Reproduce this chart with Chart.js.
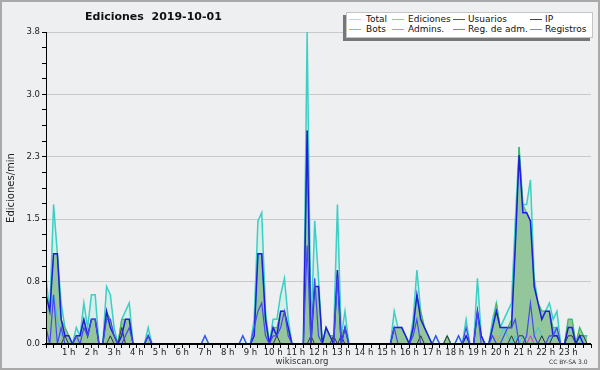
<!DOCTYPE html>
<html>
<head>
<meta charset="utf-8">
<script src="https://cdn.jsdelivr.net/npm/chart.js@4.4.1/dist/chart.umd.min.js"></script>
<style>
  body { margin: 0; background: #eeeff0; }
  #page { position: relative; width: 600px; height: 370px; background: #eeeff0; overflow: hidden;
          font-family: 'DejaVu Sans', sans-serif; color: #222; }
  #chart { position: absolute; left: 0; top: 0; }
  #frame { position: absolute; left: 0; top: 0; width: 600px; height: 370px; box-sizing: border-box;
           border: 2px solid #a9a9a9; pointer-events: none; }
  .txt { position: absolute; white-space: nowrap; }
  #title { left: 85px; top: 11px; font-size: 11px; line-height: 11px; font-weight: bold; color: #111; }
  #site { left: 262px; width: 80px; top: 357px; font-size: 8.5px; line-height: 9px; text-align: center; color: #333; }
  #lic { left: 549px; top: 359px; font-size: 6px; line-height: 6px; color: #333; }
  #legShadow { position: absolute; left: 343px; top: 15px; width: 247px; height: 26px; background: #777; }
  #legBox { position: absolute; left: 346px; top: 12px; width: 247px; height: 26px; box-sizing: border-box;
            background: #fff; border: 1px solid #c4c4c4; }
  .legLine { position: absolute; width: 12px; height: 1px; }
  .legTxt { position: absolute; font-size: 9px; line-height: 9px; color: #111; white-space: nowrap; }
</style>
</head>
<body>
<div id="page">
  <canvas id="chart" width="600" height="370"></canvas>
  <div class="txt" id="title">Ediciones&nbsp;&nbsp;2019-10-01</div>
  <div id="legShadow"></div>
  <div id="legBox"></div>
  <div id="legend"></div>
  <div class="txt" id="site">wikiscan.org</div>
  <div class="txt" id="lic">CC BY-SA 3.0</div>
  <div id="frame"></div>
</div>
<script>
// edits per minute, 10-minute bins for 2019-10-01 (144 bins, one row per hour)
const total = [
  0.8, 0.4, 1.7, 1.1, 0.5, 0.2,
  0.1, 0.0, 0.2, 0.1, 0.5, 0.2,
  0.6, 0.6, 0.0, 0.0, 0.7, 0.6,
  0.2, 0.0, 0.3, 0.4, 0.5, 0.0,
  0.0, 0.0, 0.0, 0.2, 0.0, 0.0,
  0.0, 0.0, 0.0, 0.0, 0.0, 0.0,
  0.0, 0.0, 0.0, 0.0, 0.0, 0.0,
  0.1, 0.0, 0.0, 0.0, 0.0, 0.0,
  0.0, 0.0, 0.0, 0.0, 0.1, 0.0,
  0.0, 0.3, 1.5, 1.6, 0.4, 0.0,
  0.3, 0.3, 0.6, 0.8, 0.3, 0.0,
  0.0, 0.0, 0.0, 3.8, 0.1, 1.5,
  0.8, 0.0, 0.2, 0.1, 0.1, 1.7,
  0.1, 0.4, 0.0, 0.0, 0.0, 0.0,
  0.0, 0.0, 0.0, 0.0, 0.0, 0.0,
  0.0, 0.0, 0.4, 0.2, 0.2, 0.1,
  0.0, 0.3, 0.9, 0.4, 0.2, 0.1,
  0.0, 0.1, 0.0, 0.0, 0.1, 0.0,
  0.0, 0.1, 0.0, 0.3, 0.0, 0.0,
  0.8, 0.1, 0.0, 0.0, 0.3, 0.5,
  0.2, 0.3, 0.4, 0.5, 1.5, 2.4,
  1.7, 1.7, 2.0, 0.8, 0.5, 0.4,
  0.4, 0.5, 0.3, 0.4, 0.0, 0.0,
  0.3, 0.3, 0.0, 0.2, 0.1, 0.1
];
const ediciones = [
  0.6, 0.4, 1.1, 1.1, 0.3, 0.2,
  0.1, 0.0, 0.1, 0.1, 0.3, 0.1,
  0.3, 0.3, 0.0, 0.0, 0.4, 0.3,
  0.1, 0.0, 0.3, 0.3, 0.3, 0.0,
  0.0, 0.0, 0.0, 0.1, 0.0, 0.0,
  0.0, 0.0, 0.0, 0.0, 0.0, 0.0,
  0.0, 0.0, 0.0, 0.0, 0.0, 0.0,
  0.0, 0.0, 0.0, 0.0, 0.0, 0.0,
  0.0, 0.0, 0.0, 0.0, 0.0, 0.0,
  0.0, 0.1, 1.1, 1.1, 0.3, 0.0,
  0.2, 0.2, 0.4, 0.4, 0.2, 0.0,
  0.0, 0.0, 0.0, 2.6, 0.1, 0.7,
  0.7, 0.0, 0.2, 0.1, 0.1, 0.9,
  0.1, 0.2, 0.0, 0.0, 0.0, 0.0,
  0.0, 0.0, 0.0, 0.0, 0.0, 0.0,
  0.0, 0.0, 0.2, 0.2, 0.2, 0.1,
  0.0, 0.2, 0.6, 0.4, 0.2, 0.1,
  0.0, 0.0, 0.0, 0.0, 0.1, 0.0,
  0.0, 0.0, 0.0, 0.1, 0.0, 0.0,
  0.4, 0.1, 0.0, 0.0, 0.2, 0.5,
  0.2, 0.2, 0.2, 0.3, 1.2, 2.4,
  1.7, 1.6, 1.5, 0.7, 0.5, 0.4,
  0.4, 0.4, 0.2, 0.2, 0.0, 0.0,
  0.3, 0.3, 0.0, 0.2, 0.1, 0.1
];
const usuarios = [
  0.6, 0.4, 1.1, 1.1, 0.3, 0.1,
  0.1, 0.0, 0.1, 0.1, 0.3, 0.1,
  0.3, 0.3, 0.0, 0.0, 0.4, 0.2,
  0.1, 0.0, 0.1, 0.3, 0.3, 0.0,
  0.0, 0.0, 0.0, 0.1, 0.0, 0.0,
  0.0, 0.0, 0.0, 0.0, 0.0, 0.0,
  0.0, 0.0, 0.0, 0.0, 0.0, 0.0,
  0.0, 0.0, 0.0, 0.0, 0.0, 0.0,
  0.0, 0.0, 0.0, 0.0, 0.0, 0.0,
  0.0, 0.1, 1.1, 1.1, 0.3, 0.0,
  0.2, 0.1, 0.4, 0.4, 0.2, 0.0,
  0.0, 0.0, 0.0, 2.6, 0.0, 0.7,
  0.7, 0.0, 0.2, 0.1, 0.0, 0.9,
  0.0, 0.2, 0.0, 0.0, 0.0, 0.0,
  0.0, 0.0, 0.0, 0.0, 0.0, 0.0,
  0.0, 0.0, 0.2, 0.2, 0.2, 0.1,
  0.0, 0.2, 0.6, 0.3, 0.2, 0.1,
  0.0, 0.0, 0.0, 0.0, 0.0, 0.0,
  0.0, 0.0, 0.0, 0.1, 0.0, 0.0,
  0.4, 0.1, 0.0, 0.0, 0.2, 0.4,
  0.2, 0.2, 0.2, 0.2, 1.2, 2.3,
  1.6, 1.6, 1.5, 0.7, 0.5, 0.3,
  0.4, 0.4, 0.1, 0.1, 0.0, 0.0,
  0.2, 0.2, 0.0, 0.1, 0.0, 0.0
];
const ip = [
  0.0, 0.0, 0.0, 0.0, 0.0, 0.1,
  0.0, 0.0, 0.0, 0.0, 0.0, 0.0,
  0.0, 0.0, 0.0, 0.0, 0.0, 0.1,
  0.0, 0.0, 0.2, 0.0, 0.0, 0.0,
  0.0, 0.0, 0.0, 0.0, 0.0, 0.0,
  0.0, 0.0, 0.0, 0.0, 0.0, 0.0,
  0.0, 0.0, 0.0, 0.0, 0.0, 0.0,
  0.0, 0.0, 0.0, 0.0, 0.0, 0.0,
  0.0, 0.0, 0.0, 0.0, 0.0, 0.0,
  0.0, 0.0, 0.0, 0.0, 0.0, 0.0,
  0.0, 0.1, 0.0, 0.0, 0.0, 0.0,
  0.0, 0.0, 0.0, 0.0, 0.1, 0.0,
  0.0, 0.0, 0.0, 0.0, 0.1, 0.0,
  0.1, 0.0, 0.0, 0.0, 0.0, 0.0,
  0.0, 0.0, 0.0, 0.0, 0.0, 0.0,
  0.0, 0.0, 0.0, 0.0, 0.0, 0.0,
  0.0, 0.0, 0.0, 0.1, 0.0, 0.0,
  0.0, 0.0, 0.0, 0.0, 0.1, 0.0,
  0.0, 0.0, 0.0, 0.0, 0.0, 0.0,
  0.0, 0.0, 0.0, 0.0, 0.0, 0.0,
  0.0, 0.0, 0.0, 0.1, 0.0, 0.1,
  0.1, 0.0, 0.0, 0.0, 0.0, 0.1,
  0.0, 0.0, 0.1, 0.1, 0.0, 0.0,
  0.1, 0.1, 0.0, 0.1, 0.1, 0.0
];
const bots = [
  0,0,0,0,0,0, 0,0,0,0,0,0, 0,0,0,0,0,0, 0,0,0,0,0,0,
  0,0,0,0,0,0, 0,0,0,0,0,0, 0,0,0,0,0,0, 0,0,0,0,0,0,
  0,0,0,0,0,0, 0,0,0,0,0,0, 0,0,0,0,0,0, 0,0,0,0,0,0,
  0,0,0,0,0,0, 0,0,0,0,0,0, 0,0,0,0,0,0, 0,0,0,0,0,0,
  0,0,0,0,0,0, 0,0,0,0,0,0, 0,0,0,0,0,0, 0,0,0,0,0,0.1,
  0,0,0,0,0,0, 0,0,0.1,0,0,0, 0,0,0,0,0,0, 0,0,0,0,0,0
];
const admins = [
  0.4, 0.4, 0.6, 0.3, 0.1, 0.1,
  0,0,0,0,0,0, 0,0,0,0,0,0, 0,0,0,0,0,0,
  0,0,0,0,0,0, 0,0,0,0,0,0, 0,0,0,0,0,0, 0,0,0,0,0,0, 0,0,0,0,0,0,
  0.0, 0.1, 1.1, 1.1, 0.3, 0.0,
  0,0,0,0,0,0, 0,0,0,0,0,0, 0,0,0,0,0,0, 0,0,0,0,0,0, 0,0,0,0,0,0,
  0,0,0,0,0,0, 0,0,0,0,0,0, 0,0,0,0,0,0, 0,0,0,0,0,0,
  0.0, 0.0, 0.0, 0.0, 0.1, 0.0,
  0.1, 0.2, 0.1, 0.0, 0.1, 0.0,
  0.1, 0.0, 0.0, 0.1, 0.2, 0.1,
  0.0, 0.0, 0.2, 0.1, 0.0, 0.0,
  0.0, 0.0, 0.0, 0.0, 0.1, 0.1
];
const regAdm = [
  0,0,0,0,0,0, 0,0,0,0,0,0, 0,0,0,0,0,0, 0,0,0,0,0,0,
  0,0,0,0,0,0, 0,0,0,0,0,0, 0,0,0,0,0,0, 0,0,0,0,0,0,
  0,0,0,0,0,0, 0,0,0,0,0,0, 0,0,0,0,0,0, 0,0,0,0,0,0,
  0,0,0,0,0,0, 0,0,0,0,0,0, 0,0,0,0,0,0, 0,0,0,0,0,0,
  0,0,0,0,0,0, 0,0,0,0,0,0, 0,0,0,0,0,0, 0,0,0,0,0,0,
  0,0,0,0,0,0, 0,0,0.1,0,0,0, 0,0,0,0,0,0, 0,0,0,0,0,0
];
const registros = [
  0.2, 0.0, 0.6, 0.0, 0.2, 0.0,
  0.0, 0.0, 0.1, 0.0, 0.2, 0.1,
  0.3, 0.3, 0.0, 0.0, 0.3, 0.3,
  0.1, 0.0, 0.0, 0.1, 0.2, 0.0,
  0.0, 0.0, 0.0, 0.1, 0.0, 0.0,
  0.0, 0.0, 0.0, 0.0, 0.0, 0.0,
  0.0, 0.0, 0.0, 0.0, 0.0, 0.0,
  0.1, 0.0, 0.0, 0.0, 0.0, 0.0,
  0.0, 0.0, 0.0, 0.0, 0.1, 0.0,
  0.0, 0.2, 0.4, 0.5, 0.1, 0.0,
  0.1, 0.1, 0.2, 0.4, 0.1, 0.0,
  0.0, 0.0, 0.0, 1.2, 0.0, 0.8,
  0.1, 0.0, 0.0, 0.0, 0.0, 0.8,
  0.0, 0.2, 0.0, 0.0, 0.0, 0.0,
  0.0, 0.0, 0.0, 0.0, 0.0, 0.0,
  0.0, 0.0, 0.2, 0.0, 0.0, 0.0,
  0.0, 0.1, 0.3, 0.0, 0.0, 0.0,
  0.0, 0.1, 0.0, 0.0, 0.0, 0.0,
  0.0, 0.1, 0.0, 0.2, 0.0, 0.0,
  0.4, 0.0, 0.0, 0.0, 0.1, 0.0,
  0.0, 0.1, 0.2, 0.2, 0.3, 0.0,
  0.0, 0.1, 0.5, 0.1, 0.0, 0.0,
  0.0, 0.1, 0.1, 0.2, 0.0, 0.0,
  0.0, 0.0, 0.0, 0.0, 0.0, 0.0
];

const hourLabels = ['1 h','2 h','3 h','4 h','5 h','6 h','7 h','8 h','9 h','10 h','11 h','12 h',
                    '13 h','14 h','15 h','16 h','17 h','18 h','19 h','20 h','21 h','22 h','23 h'];
const yTickLabels = ['0.0', '0.8', '1.5', '2.3', '3.0', '3.8'];
const yMax = 3.8;
const binsPerHour = 6;
const nBins = 144;

// legend: [label, colour]
const legendItems = [
  ['Total', '#a6e3dd'], ['Ediciones', '#8fd08f'], ['Usuarios', '#4a4ae0'], ['IP', '#444'],
  ['Bots', '#f0a040'], ['Admins.', '#45cfe0'], ['Reg. de adm.', '#d24fe0'], ['Registros', '#8282f0']
];

const legEl = document.getElementById('legend');
const lineX = [349, 392, 453, 530];
const textX = [366, 408, 468, 545];
legendItems.forEach(([name, col], i) => {
  const c = i % 4, r = Math.floor(i / 4);
  const ln = document.createElement('div');
  ln.className = 'legLine';
  ln.style.left = lineX[c] + 'px';
  ln.style.top = (19 + r * 10) + 'px';
  ln.style.background = col;
  legEl.appendChild(ln);
  const tx = document.createElement('div');
  tx.className = 'legTxt';
  tx.style.left = textX[c] + 'px';
  tx.style.top = (15 + r * 10) + 'px';
  tx.textContent = name;
  legEl.appendChild(tx);
});

const pts = arr => arr.map((v, i) => ({ x: i, y: v }));

// axes lines painted over the data so zero values sit under them
const axisOnTop = {
  id: 'axisOnTop',
  afterDatasetsDraw(chart) {
    const { ctx, chartArea: a } = chart;
    ctx.save();
    ctx.strokeStyle = '#000';
    ctx.lineWidth = 2;
    ctx.beginPath();
    ctx.moveTo(a.left - 1, a.bottom);
    ctx.lineTo(a.right, a.bottom);
    ctx.stroke();
    ctx.lineWidth = 1;
    ctx.beginPath();
    ctx.moveTo(a.left + 0.5, a.top);
    ctx.lineTo(a.left + 0.5, a.bottom);
    ctx.stroke();
    ctx.restore();
  }
};

Chart.defaults.font.family = "'DejaVu Sans', sans-serif";

new Chart(document.getElementById('chart'), {
  type: 'line',
  data: {
    datasets: [
      { label: 'Total', data: pts(total), borderColor: '#3ccfc4', borderWidth: 1.5,
        backgroundColor: '#d6efea', fill: 'origin', order: 10 },
      { label: 'Ediciones', data: pts(ediciones), borderColor: '#47b44c', borderWidth: 1,
        backgroundColor: '#93c69b', fill: 'origin', order: 9 },
      { label: 'Admins.', data: pts(admins), borderColor: '#3fc6de', borderWidth: 1, fill: false, order: 8 },
      { label: 'IP', data: pts(ip), borderColor: '#333333', borderWidth: 1, fill: false, order: 7 },
      { label: 'Usuarios', data: pts(usuarios), borderColor: '#1d1de0', borderWidth: 1.5, fill: false, order: 5 },
      { label: 'Bots', data: pts(bots), borderColor: '#f0a030', borderWidth: 1, fill: false, order: 4 },
      { label: 'Reg. de adm.', data: pts(regAdm), borderColor: '#d23ee0', borderWidth: 1, fill: false, order: 3 },
      { label: 'Registros', data: pts(registros), borderColor: '#4646f2', borderWidth: 1.2, fill: false, order: 2 }
    ]
  },
  options: {
    responsive: false,
    animation: false,
    layout: { padding: { top: 32, right: 9, bottom: 0, left: 0 } },
    elements: { point: { radius: 0 }, line: { tension: 0 } },
    plugins: { legend: { display: false }, tooltip: { enabled: false } },
    scales: {
      x: {
        type: 'linear',
        min: 0,
        max: nBins,
        afterBuildTicks: s => {
          const t = [];
          for (let v = 0; v <= nBins; v += 2) t.push({ value: v });
          s.ticks = t;
        },
        afterFit: s => { s.height = 26; },
        grid: { drawOnChartArea: false, tickColor: '#000', tickLength: 4 },
        border: { color: '#000' },
        ticks: {
          autoSkip: false, maxRotation: 0, padding: 0, color: '#222', font: { size: 8.5 },
          callback: v => (v % binsPerHour === 0 && v > 0 && v < nBins) ? hourLabels[v / binsPerHour - 1] : ''
        }
      },
      y: {
        min: 0,
        max: yMax,
        afterBuildTicks: s => {
          const t = [];
          for (let k = 0; k <= 20; k++) t.push({ value: yMax * k / 20 });
          s.ticks = t;
        },
        afterFit: s => { s.width = 46; },
        grid: {
          color: c => (c.index % 4 === 0 && c.index > 0) ? '#c9c9c9' : 'rgba(0,0,0,0)',
          tickColor: '#000', tickLength: 4
        },
        border: { color: '#000' },
        ticks: {
          autoSkip: false, padding: 2, color: '#222', font: { size: 8.5 },
          callback: (v, i) => i % 4 === 0 ? yTickLabels[i / 4] : ''
        },
        title: { display: true, text: 'Ediciones/min', color: '#222', font: { size: 10 }, padding: { top: 5, bottom: 0 } }
      }
    }
  },
  plugins: [axisOnTop]
});
</script>
</body>
</html>
